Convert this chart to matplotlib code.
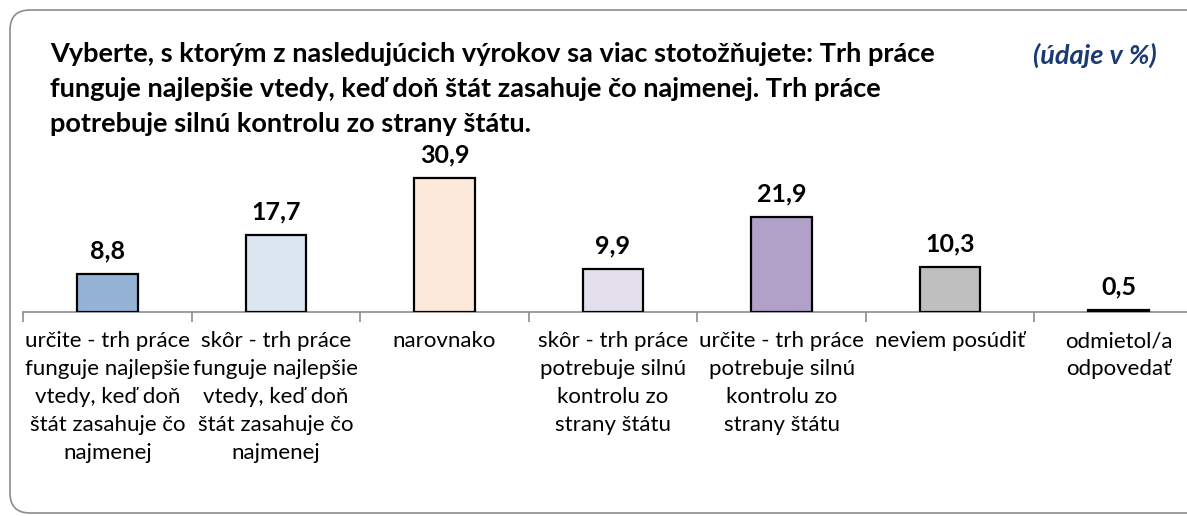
import matplotlib
matplotlib.use("Agg")
import matplotlib.pyplot as plt
from matplotlib.patches import FancyBboxPatch

plt.rcParams['font.family'] = ['Lato', 'DejaVu Sans']

categories = [
    "určite - trh práce\nfunguje najlepšie\nvtedy, keď doň\nštát zasahuje čo\nnajmenej",
    "skôr - trh práce\nfunguje najlepšie\nvtedy, keď doň\nštát zasahuje čo\nnajmenej",
    "narovnako",
    "skôr - trh práce\npotrebuje silnú\nkontrolu zo\nstrany štátu",
    "určite - trh práce\npotrebuje silnú\nkontrolu zo\nstrany štátu",
    "neviem posúdiť",
    "odmietol/a\nodpovedať",
]
values = [8.8, 17.7, 30.9, 9.9, 21.9, 10.3, 0.5]
colors = ["#95B3D7", "#DCE6F1", "#FDE9D9", "#E4DFEC", "#B1A0C7", "#BFBFBF", "#1a1a1a"]

title = ("Vyberte, s ktorým z nasledujúcich výrokov sa viac stotožňujete: Trh práce\n"
         "funguje najlepšie vtedy, keď doň štát zasahuje čo najmenej. Trh práce\n"
         "potrebuje silnú kontrolu zo strany štátu.")

W, H = 1187, 516
fig = plt.figure(figsize=(W / 100, H / 100), dpi=100)

# rounded frame
frame = FancyBboxPatch((10 / W, 3 / H), 1200 / W, 503 / H,
                       boxstyle=f"round,pad=0,rounding_size={20 / W}",
                       transform=fig.transFigure, facecolor="none",
                       edgecolor="#8c8c8c", linewidth=1.2, mutation_aspect=W / H,
                       zorder=-1)
fig.patches.append(frame)

ax = fig.add_axes([23 / W, (H - 312) / H, 1180 / W, 174 / H])
ax.set_facecolor("none")
x = list(range(len(values)))
ax.bar(x, values, width=0.36, color=colors, edgecolor="black", linewidth=1.6, zorder=3)
for xi, v in zip(x, values):
    ax.text(xi, v + 2.6, f"{v:.1f}".replace(".", ","), ha="center", va="bottom",
            fontsize=18, fontweight="bold")

ax.set_xlim(-0.5, 6.5)
ax.set_ylim(0, 40)
ax.set_yticks([])
for s in ["top", "right", "left"]:
    ax.spines[s].set_visible(False)
ax.spines["bottom"].set_color("#8c8c8c")
ax.spines["bottom"].set_linewidth(1.2)
ax.set_xticks(x)
ax.set_xticklabels(categories, fontsize=16, linespacing=1.5)
ax.tick_params(axis="x", which="major", length=0, pad=14)
ax.set_xticks([i - 0.5 for i in range(len(values) + 1)], minor=True)
ax.tick_params(axis="x", which="minor", length=7, color="#8c8c8c", width=1.2)

fig.text(50 / W, 1 - 42 / H, title, ha="left", va="top", fontsize=19.5,
         fontweight="bold", linespacing=1.55)
fig.text(1157 / W, 1 - 55 / H, "(údaje v %)", ha="right", va="center", fontsize=19.5,
         fontweight="bold", fontstyle="italic", color="#1b3a73")

fig.savefig("out.png", dpi=100)
